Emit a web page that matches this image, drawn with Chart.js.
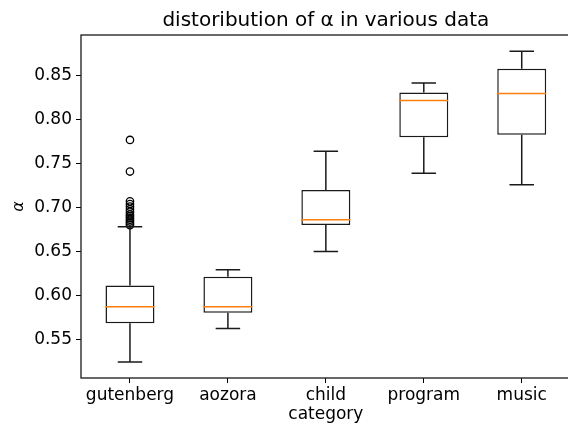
<!DOCTYPE html>
<html>
<head>
<meta charset="utf-8">
<script src="https://cdn.jsdelivr.net/npm/chart.js@4.4.1/dist/chart.umd.min.js"></script>
<style>
  html, body { margin: 0; padding: 0; background: #fff; overflow: hidden; }
  canvas { display: block; }
</style>
</head>
<body>
<canvas id="boxChart" width="576" height="426"></canvas>
<script>
// box plot summary per category
const categories = ["gutenberg", "aozora", "child", "program", "music"];
const whiskerLow  = [0.524, 0.562, 0.650, 0.739, 0.726];
const q1          = [0.568, 0.580, 0.680, 0.780, 0.783];
const medians     = [0.587, 0.587, 0.686, 0.822, 0.830];
const q3          = [0.611, 0.621, 0.720, 0.831, 0.858];
const whiskerHigh = [0.678, 0.629, 0.764, 0.842, 0.878];
// fliers, only gutenberg has them
const gutenbergOutliers = [0.777, 0.741, 0.707, 0.704, 0.701, 0.698, 0.695, 0.692, 0.690, 0.688, 0.686, 0.684, 0.682, 0.680];
const yTicks = [0.55, 0.60, 0.65, 0.70, 0.75, 0.80, 0.85];

const FONT = "'DejaVu Sans', sans-serif";

// whiskers, caps, medians and the frame round the plot
const boxPlotPlugin = {
    id: "boxPlotPlugin",
    afterDatasetsDraw(chart) {
        const ctx = chart.ctx;
        const xs = chart.scales.x;
        const ys = chart.scales.y;
        const step = xs.getPixelForValue(1) - xs.getPixelForValue(0);
        const capHalf = step * 0.125;
        const boxHalf = step * 0.25;

        ctx.save();
        ctx.lineWidth = 1.5;
        categories.forEach((c, i) => {
            const x = xs.getPixelForValue(i);
            ctx.strokeStyle = "#1a1a1a";
            ctx.beginPath();
            // lower whisker + cap
            ctx.moveTo(x, ys.getPixelForValue(q1[i]));
            ctx.lineTo(x, ys.getPixelForValue(whiskerLow[i]));
            ctx.moveTo(x - capHalf, ys.getPixelForValue(whiskerLow[i]));
            ctx.lineTo(x + capHalf, ys.getPixelForValue(whiskerLow[i]));
            // upper whisker + cap
            ctx.moveTo(x, ys.getPixelForValue(q3[i]));
            ctx.lineTo(x, ys.getPixelForValue(whiskerHigh[i]));
            ctx.moveTo(x - capHalf, ys.getPixelForValue(whiskerHigh[i]));
            ctx.lineTo(x + capHalf, ys.getPixelForValue(whiskerHigh[i]));
            ctx.stroke();

            // median
            ctx.strokeStyle = "#ff7f0e";
            ctx.beginPath();
            ctx.moveTo(x - boxHalf, ys.getPixelForValue(medians[i]));
            ctx.lineTo(x + boxHalf, ys.getPixelForValue(medians[i]));
            ctx.stroke();
        });

        const a = chart.chartArea;
        ctx.strokeStyle = "#1a1a1a";
        ctx.lineWidth = 1.3;
        ctx.strokeRect(a.left, a.top, a.right - a.left, a.bottom - a.top);
        ctx.restore();
    }
};

new Chart(document.getElementById("boxChart"), {
    type: "bar",
    data: {
        labels: categories,
        datasets: [
            {
                label: "box",
                data: categories.map((c, i) => [q1[i], q3[i]]),
                backgroundColor: "#ffffff",
                borderColor: "#1a1a1a",
                borderWidth: 1.5,
                borderSkipped: false,
                barPercentage: 0.5,
                categoryPercentage: 1.0,
                order: 2
            },
            {
                type: "line",
                label: "outliers",
                data: gutenbergOutliers.map(v => ({ x: "gutenberg", y: v })),
                showLine: false,
                pointStyle: "circle",
                pointRadius: 3.7,
                pointBorderWidth: 1.3,
                pointBackgroundColor: "rgba(0,0,0,0)",
                pointBorderColor: "#000",
                order: 1
            }
        ]
    },
    options: {
        responsive: false,
        animation: false,
        layout: { padding: { left: 0, right: 2.5, top: 0, bottom: 0 } },
        plugins: {
            legend: { display: false },
            tooltip: { enabled: false },
            title: {
                display: true,
                fullSize: false,
                text: "distoribution of α in various data",
                color: "#000",
                font: { family: FONT, size: 20, weight: "normal", lineHeight: 1.2 },
                padding: { top: 8.5, bottom: 2.5 }
            }
        },
        scales: {
            x: {
                offset: true,
                grid: { offset: false, drawOnChartArea: false, drawTicks: true, tickLength: 5, color: "#000" },
                border: { display: false },
                ticks: { color: "#000", padding: 2, font: { family: FONT, size: 17 } },
                title: {
                    display: true,
                    text: "category",
                    color: "#000",
                    font: { family: FONT, size: 17, lineHeight: 1.2 },
                    padding: { top: 0, bottom: 1 }
                },
                afterFit(scale) { scale.height = 48; }
            },
            y: {
                min: 0.5057,
                max: 0.8966,
                afterBuildTicks(scale) { scale.ticks = yTicks.map(v => ({ value: v })); },
                grid: { drawOnChartArea: false, drawTicks: true, tickLength: 5, color: "#000" },
                border: { display: false },
                ticks: {
                    color: "#000",
                    padding: 4,
                    font: { family: FONT, size: 17 },
                    callback: v => Number(v).toFixed(2)
                },
                title: {
                    display: true,
                    text: "α",
                    color: "#000",
                    font: { family: FONT, size: 16, style: "italic", lineHeight: 1.2 },
                    padding: { top: 9, bottom: 0 }
                },
                afterFit(scale) { scale.width = 81; }
            }
        }
    },
    plugins: [boxPlotPlugin]
});
</script>
</body>
</html>
